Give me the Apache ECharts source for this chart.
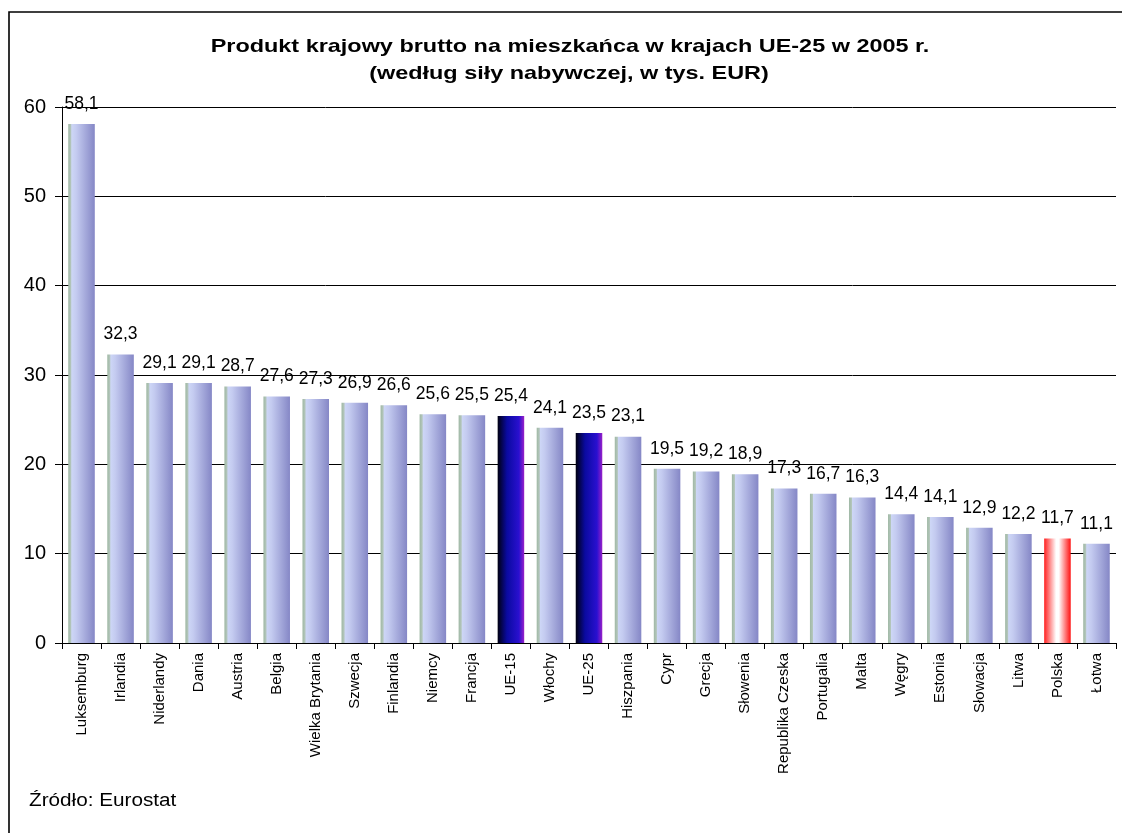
<!DOCTYPE html>
<html><head><meta charset="utf-8">
<script src="https://cdn.jsdelivr.net/npm/echarts@6/dist/echarts.min.js"></script>
<style>html,body{margin:0;padding:0;background:#fff}#c{width:1122px;height:833px}</style>
</head><body><div id="c"></div>
<script>
const categories = ["Luksemburg","Irlandia","Niderlandy","Dania","Austria","Belgia","Wielka Brytania","Szwecja","Finlandia","Niemcy","Francja","UE-15","Włochy","UE-25","Hiszpania","Cypr","Grecja","Słowenia","Republika Czeska","Portugalia","Malta","Węgry","Estonia","Słowacja","Litwa","Polska","Łotwa"];
const values = [58.1,32.3,29.1,29.1,28.7,27.6,27.3,26.9,26.6,25.6,25.5,25.4,24.1,23.5,23.1,19.5,19.2,18.9,17.3,16.7,16.3,14.4,14.1,12.9,12.2,11.7,11.1];
const yTicks = [0,10,20,30,40,50,60];
const titleLine1 = "Produkt krajowy brutto na mieszkańca w krajach UE-25 w 2005 r.";
const titleLine2 = "(według siły nabywczej, w tys. EUR)";
const sourceText = "Źródło: Eurostat";

const FONT = 'Liberation Sans, Arial, sans-serif';
const grad = (stops) => ({type:'linear',x:0,y:0,x2:1,y2:0,colorStops:stops.map(s=>({offset:s[0],color:s[1]}))});
const normal = grad([[0,'#9fb8a4'],[0.1,'#b4c6bc'],[0.13,'#cdd6f6'],[0.3,'#c4cbf0'],[1,'#8587c6']]);
const euro = grad([[0,'#000010'],[0.35,'#0a0aa0'],[0.8,'#2a10d0'],[1,'#9a20c8']]);
const pol = grad([[0,'#ff2020'],[0.45,'#ffffff'],[0.55,'#ffffff'],[1,'#ff1010']]);

const data = values.map((v,i)=>{
  const c = categories[i];
  let color = normal;
  if (c==='UE-15'||c==='UE-25') color = euro;
  if (c==='Polska') color = pol;
  return {value:v, itemStyle:{color}};
});

const chart = echarts.init(document.getElementById('c'), null, {renderer:'canvas'});
chart.setOption({
  animation:false,
  backgroundColor:'#fff',
  textStyle:{fontFamily:FONT},
  graphic:[
    {type:'rect',shape:{x:9,y:12,width:1300,height:1000},style:{fill:'none',stroke:'#000',lineWidth:1.6},silent:true},
    {type:'text',x:570,y:47,scaleX:1.233,style:{text:titleLine1,fontSize:19,fontWeight:'bold',fill:'#000',font:'bold 19px '+FONT,textAlign:'center',textVerticalAlign:'middle'}},
    {type:'text',x:569,y:74,scaleX:1.233,style:{text:titleLine2,fontSize:19,fontWeight:'bold',fill:'#000',font:'bold 19px '+FONT,textAlign:'center',textVerticalAlign:'middle'}},
    {type:'text',x:29,y:801,scaleX:1.15,style:{text:sourceText,fontSize:18,fill:'#000',font:'18px '+FONT,textAlign:'left',textVerticalAlign:'middle'}}
  ],
  grid:{left:62,right:6,top:107,bottom:190},
  xAxis:{type:'category',data:categories,
    axisLine:{lineStyle:{color:'#000',width:1}},
    axisTick:{show:true,alignWithLabel:false,length:6,lineStyle:{color:'#000'}},
    axisLabel:{rotate:90,fontSize:15,color:'#000',margin:10,interval:0}},
  yAxis:{type:'value',min:0,max:60,interval:10,
    axisLine:{show:true,lineStyle:{color:'#000'}},
    axisTick:{show:true,inside:false,length:7,lineStyle:{color:'#000'}},
    axisLabel:{fontSize:20,color:'#000',margin:16,formatter:v=>yTicks.includes(v)?String(v):''},
    splitLine:{show:true,lineStyle:{color:'#000',width:1}}},
  series:[{type:'bar',data,barCategoryGap:'32%',
    label:{show:true,position:'top',distance:11,fontSize:17.5,color:'#000',
      formatter:p=>p.value.toFixed(1).replace('.',',')}}]
});
</script></body></html>
